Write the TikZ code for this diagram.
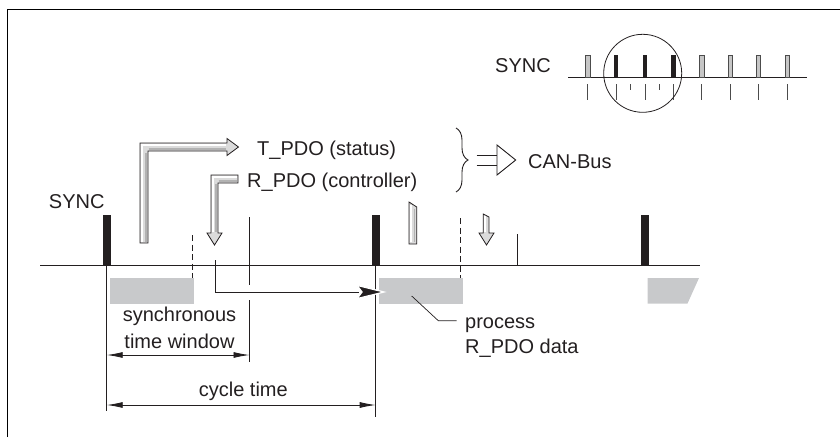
\documentclass[tikz,border=0pt]{standalone}
\usepackage{fontspec}
\setmainfont{Liberation Sans}
\usetikzlibrary{arrows.meta,decorations.pathreplacing}
\definecolor{boxgray}{RGB}{200,201,203}
\definecolor{ink}{RGB}{35,31,32}
\begin{document}
\begin{tikzpicture}[x=1pt,y=-1pt,
  lbl/.style={font=\fontsize{20}{24}\selectfont, inner sep=0pt, text=ink},
  thinline/.style={draw=ink, line width=0.9pt},
  dimline/.style={draw=ink, line width=0.9pt, {Latex[length=16pt,width=6pt]}-{Latex[length=16pt,width=6pt]}},
  dashline/.style={draw=ink, line width=0.9pt, dash pattern=on 6pt off 3.5pt},
  pdo/.style={draw=ink, line width=0.8pt, fill=gray!28, line join=miter},
  hilite/.style={draw=white, line width=1.7pt},
  shade/.style={draw=gray!60, line width=1.4pt},
  syncbar/.style={fill=ink},
  graypulse/.style={fill=gray!45, draw=black!70, line width=0.5pt},
  blackpulse/.style={fill=ink},
  tick/.style={draw=black!70, line width=0.8pt}
]
\useasboundingbox (0,0) rectangle (840,437);
% frame
\coordinate (fbl) at (7.5,437);
\coordinate (ftl) at (7.5,9.5);
\coordinate (ftr) at (840,9.5);
\draw[line width=1.3pt] (fbl) -- (ftl) -- (ftr);

% gray process boxes
\fill[boxgray] (110,278) rectangle (194,303.5);
\fill[boxgray] (378.5,278) rectangle (462.5,303.5);
\fill[boxgray] (647.5,278) -- (699,278) -- (687.5,303.5) -- (647.5,303.5) -- cycle;

% timeline
\coordinate (tl0) at (40,265);
\coordinate (tl1) at (700,265);
\draw[line width=1pt, ink] (tl0) -- (tl1);

% SYNC bars
\fill[syncbar] (102.7,215) rectangle (110.7,265);
\fill[syncbar] (371.7,215) rectangle (379.7,265);
\fill[syncbar] (641,215) rectangle (649,265);

% reference verticals
\coordinate (s1) at (106.7,265);
\coordinate (s1b) at (106.7,411);
\coordinate (s2) at (375.7,265);
\coordinate (s2b) at (375.7,417);
\draw[thinline] (s1) -- (s1b);
\draw[thinline] (s2) -- (s2b);

% dashed ends of synchronous windows
\draw[dashline] (192,235) -- (192,278);
\draw[dashline] (460.7,218) -- (460.7,278);

% end of synchronous time window
\coordinate (w1) at (249.5,217);
\coordinate (w2) at (249.5,285);
\coordinate (w3) at (249.5,300);
\coordinate (w4) at (249.5,362);
\draw[thinline] (w1) -- (w2);
\draw[thinline] (w3) -- (w4);
\draw[thinline] (517.7,234) -- (517.7,265);

% R_PDO data path to next cycle
\coordinate (p0) at (215,260);
\coordinate (p1) at (215,292);
\coordinate (p2) at (359,292);
\coordinate (ptip) at (384,292);
\draw[thinline] (p0) -- (p1) -- (p2);
\filldraw[fill=ink, draw=white, line width=1.3pt] (ptip) -- (357,285.3) -- (362,292) -- (357,298.7) -- cycle;

% dimension arrows
\coordinate (d1a) at (106.7,355);
\coordinate (d1b) at (249.5,355);
\coordinate (d2a) at (106.7,405);
\coordinate (d2b) at (375.7,405);
\draw[dimline] (d1a) -- (d1b);
\draw[dimline] (d2a) -- (d2b);

% labels
\node[lbl, anchor=base] (syncL) at (76.7,208.3) {SYNC};
\node[lbl, anchor=base west] (tpdo) at (257,155.5) {T\_PDO (status)};
\node[lbl, anchor=base west] (rpdo) at (247,187) {R\_PDO (controller)};
\node[lbl, anchor=base west] (can) at (528,168.3) {CAN-Bus};
\node[lbl, anchor=base] (sy1) at (179.5,321.7) {synchronous};
\node[lbl, anchor=base] (sy2) at (179.5,348.3) {time window};
\node[lbl, anchor=base] (cyc) at (243.3,396.7) {cycle time};
\node[lbl, anchor=base west] (proc1) at (465,328) {process};
\node[lbl, anchor=base west] (proc2) at (465,353) {R\_PDO data};
\node[lbl, anchor=base] (syncI) at (523,72.7) {SYNC};

% leader line
\coordinate (lead0) at (411.7,296);
\coordinate (lead1) at (438.3,320.7);
\coordinate (lead2) at (456.7,320.7);
\draw[thinline, line width=0.7pt] (lead0) -- (lead1) -- (lead2);

% brace
\draw[ink, line width=0.9pt, decorate, decoration={brace, amplitude=12pt}] (456,128) -- (456,192);

% hollow double arrow
\draw[thinline] (476.7,155.5) -- (497,155.5);
\draw[thinline] (476.7,165.5) -- (497,165.5);
\draw[thinline, fill=white, line join=miter] (497,145) -- (515.7,160) -- (497,175) -- cycle;

% 3D arrow T_PDO
\filldraw[pdo] (140,243) -- (140,143) -- (227,143) -- (227,138.5) -- (238.5,147) -- (227,155.5) -- (227,151) -- (148,151) -- (148,243) -- cycle;
\draw[hilite] (142.3,242) -- (142.3,145.3) -- (226,145.3);
\draw[shade] (145.9,242) -- (145.9,153);
\draw[shade] (148.5,149) -- (226,149);

% 3D arrow R_PDO
\filldraw[pdo] (238,175) -- (211,175) -- (211,233) -- (207,233) -- (214.5,245) -- (222,233) -- (218,233) -- (218,183) -- (238,183) -- cycle;
\draw[hilite] (213,232) -- (213,177) -- (237,177);
\draw[shade] (216.1,183.5) -- (216.1,232);
\draw[shade] (218.5,181.1) -- (237,181.1);

% small bar (second cycle)
\filldraw[pdo] (409,244) -- (409,202) -- (416.7,207) -- (416.7,244) -- cycle;
\draw[hilite] (411,242) -- (411,204.5);
\draw[shade] (414.7,208.5) -- (414.7,242);

% small down arrow (second cycle)
\filldraw[pdo] (483.3,214) -- (483.3,233) -- (479,233) -- (486.5,245) -- (494,233) -- (489,233) -- (489,217) -- cycle;
\draw[draw=white, line width=1.2pt] (485,216) -- (485,232);

% inset SYNC train
\coordinate (i0) at (568.3,77.3);
\coordinate (i1) at (806.7,77.3);
\draw[thinline] (i0) -- (i1);
\foreach \x in {587.7,701.7,730,758.3,787.3} {
  \filldraw[graypulse] (\x-2.2,55) rectangle (\x+2.2,77.3);
}
\foreach \x in {616,645,673.3} {
  \fill[blackpulse] (\x-2.4,55) rectangle (\x+2.4,77.3);
}
\foreach \x in {587.7,616,645,673.3,701.7,730,758.3,787.3} {
  \draw[tick] (\x,84) -- (\x,100);
}
\foreach \x in {630.5,659} {
  \draw[tick] (\x,84) -- (\x,90);
}
\coordinate (ic) at (642.7,73.3);
\draw[ink, line width=0.8pt] (ic) circle [radius=39pt];
\end{tikzpicture}
\end{document}
